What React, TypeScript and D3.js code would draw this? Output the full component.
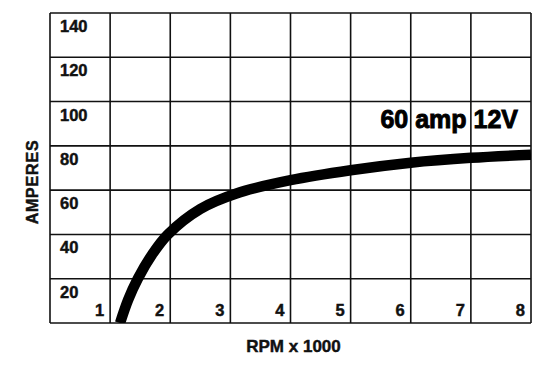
import { useEffect, useRef } from "react";
import * as d3 from "d3";

// alternator output curve
const rpm = [1.165, 1.3, 1.46, 1.7, 1.96, 2.5, 3.1, 4.0, 5.0, 6.0, 7.0, 8.0];
const amps = [0, 10.5, 20, 31, 40, 51.5, 58.5, 64.5, 69, 72.4, 74.6, 76];
const xTicks = [1, 2, 3, 4, 5, 6, 7, 8];
const yTicks = [20, 40, 60, 80, 100, 120, 140];
const seriesLabel = "60 amp 12V";

export default function App() {
  const ref = useRef<SVGSVGElement | null>(null);

  useEffect(() => {
    const el = ref.current;
    if (!el) return;
    const svg = d3.select(el);
    svg.selectAll("*").remove();

    const width = 546;
    const height = 369;
    const margin = { top: 13, right: 15, bottom: 46, left: 50 };
    const innerW = width - margin.left - margin.right;
    const innerH = height - margin.top - margin.bottom;
    const font = "'Liberation Sans', Arial, Helvetica, sans-serif";
    const ink = "#111";

    const x = d3.scaleLinear().domain([0, 8]).range([0, innerW]);
    const y = d3.scaleLinear().domain([0, 140]).range([innerH, 0]);

    const g = svg.append("g").attr("transform", `translate(${margin.left},${margin.top})`);

    // grid
    g.append("g")
      .selectAll("line")
      .data(d3.range(0, 9))
      .join("line")
      .attr("x1", (d) => x(d))
      .attr("x2", (d) => x(d))
      .attr("y1", 0)
      .attr("y2", innerH)
      .attr("stroke", ink)
      .attr("stroke-width", 1.6);

    g.append("g")
      .selectAll("line")
      .data(d3.range(0, 160, 20))
      .join("line")
      .attr("x1", 0)
      .attr("x2", innerW)
      .attr("y1", (d) => y(d))
      .attr("y2", (d) => y(d))
      .attr("stroke", ink)
      .attr("stroke-width", 1.6);

    const boldText = (sel: any, size: number) =>
      sel
        .attr("font-family", font)
        .attr("font-weight", "bold")
        .attr("font-size", size)
        .attr("fill", ink)
        .attr("stroke", ink)
        .attr("stroke-width", 0.45);

    // y tick labels sit just under their gridline
    g.append("g")
      .selectAll("text")
      .data(yTicks)
      .join("text")
      .attr("x", 10)
      .attr("y", (d) => y(d) + 19)
      .call(boldText, 16.5)
      .text((d) => d);

    // x tick labels, right aligned inside the column
    g.append("g")
      .selectAll("text")
      .data(xTicks)
      .join("text")
      .attr("x", (d) => x(d) - 6)
      .attr("y", innerH - 7)
      .attr("text-anchor", "end")
      .call(boldText, 16.5)
      .text((d) => d);

    // curve
    const clipId = "plot-clip";
    svg
      .append("defs")
      .append("clipPath")
      .attr("id", clipId)
      .append("rect")
      .attr("width", innerW)
      .attr("height", innerH);

    const line = d3
      .line<number>()
      .x((d, i) => x(rpm[i]))
      .y((d) => y(d))
      .curve(d3.curveCatmullRom.alpha(0.5));

    g.append("path")
      .attr("clip-path", `url(#${clipId})`)
      .attr("fill", "none")
      .attr("stroke", "#000")
      .attr("stroke-width", 10.5)
      .attr("d", line(amps) as string);

    g.append("text")
      .attr("x", x(8) - 13)
      .attr("y", y(88))
      .attr("text-anchor", "end")
      .call(boldText, 25)
      .attr("fill", "#000")
      .attr("stroke", "#000")
      .attr("stroke-width", 0.9)
      .text(seriesLabel);

    // axis titles
    svg.append("text")
      .attr("x", margin.left + innerW / 2 + 3)
      .attr("y", 352)
      .attr("text-anchor", "middle")
      .call(boldText, 17)
      .text("RPM x 1000");

    svg.append("text")
      .attr("transform", `translate(38,182) rotate(-90)`)
      .attr("text-anchor", "middle")
      .call(boldText, 16)
      .attr("letter-spacing", 0.8)
      .text("AMPERES");
  }, []);

  return (
    <svg
      ref={ref}
      width={546}
      height={369}
      style={{ position: "absolute", left: 0, top: 0, background: "#fff" }}
    />
  );
}
